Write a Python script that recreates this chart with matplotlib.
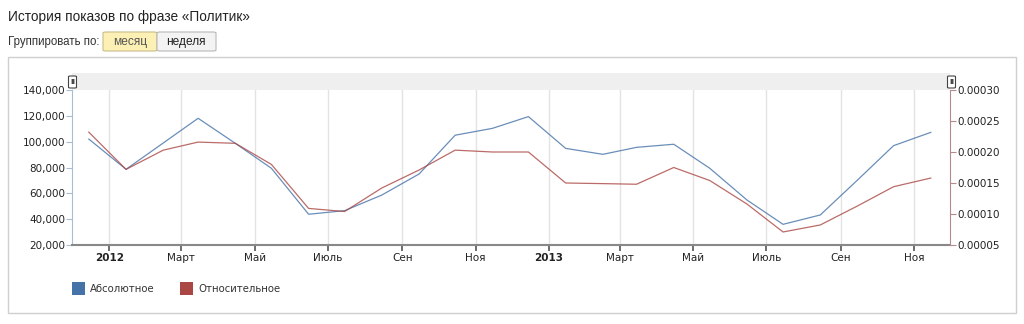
import matplotlib
matplotlib.use('Agg')
import matplotlib.pyplot as plt
from matplotlib.patches import Rectangle, FancyBboxPatch
from matplotlib.ticker import FuncFormatter
import datetime as dt

# monthly values, Dec 2011 .. Nov 2013 (points sit mid-month)
months = [dt.date(2011, 12, 15)] + [dt.date(2012, m, 15) for m in range(1, 13)] + \
         [dt.date(2013, m, 15) for m in range(1, 12)]
absolute = [102000, 78600, 99000, 118100, 98700, 79400, 43800, 46600, 58700, 75000, 105000, 110300,
            119400, 94800, 90200, 95600, 98000, 79400, 54800, 36000, 43250, 70300, 96900, 107200]
relative = [0.000232, 0.000172, 0.000203, 0.000216, 0.000214, 0.000180, 0.000109, 0.000104,
            0.000142, 0.000171, 0.000203, 0.000200, 0.000200, 0.000150, 0.000149, 0.000148,
            0.000175, 0.000154, 0.000116, 0.000071, 0.0000823, 0.000113, 0.000144, 0.000158]

tick_dates = [dt.date(2012, 1, 1), dt.date(2012, 3, 1), dt.date(2012, 5, 1), dt.date(2012, 7, 1),
              dt.date(2012, 9, 1), dt.date(2012, 11, 1), dt.date(2013, 1, 1), dt.date(2013, 3, 1),
              dt.date(2013, 5, 1), dt.date(2013, 7, 1), dt.date(2013, 9, 1), dt.date(2013, 11, 1)]
tick_labels = ['2012', 'Март', 'Май', 'Июль', 'Сен', 'Ноя', '2013', 'Март', 'Май', 'Июль', 'Сен', 'Ноя']

W, H = 1024, 324
BLUE = '#4572A7'
RED = '#AA4643'


def px(x, y):
    return x / W, 1 - y / H


fig = plt.figure(figsize=(W / 100, H / 100), dpi=100)

# header texts
fig.text(*px(8, 17), 'История показов по фразе «Политик»', fontsize=9.8,
         family='Liberation Sans', color='#222222', va='center')
fig.text(*px(8, 42), 'Группировать по:', fontsize=8.3, family='Liberation Sans',
         color='#333333', va='center')
# buttons
b1 = FancyBboxPatch(px(103, 51), 54 / W, 19 / H, boxstyle='round,pad=0,rounding_size=0.003',
                    transform=fig.transFigure, fc='#fdf0b5', ec='#c9bd8a', lw=0.8)
b2 = FancyBboxPatch(px(157, 51), 59 / W, 19 / H, boxstyle='round,pad=0,rounding_size=0.003',
                    transform=fig.transFigure, fc='#f3f3f3', ec='#b8b8b8', lw=0.8)
fig.patches.extend([b1, b2])
fig.text(*px(130, 42), 'месяц', fontsize=8.6, family='Liberation Sans', color='#555555',
         ha='center', va='center')
fig.text(*px(186, 42), 'неделя', fontsize=8.6, family='Liberation Sans', color='#222222',
         ha='center', va='center')

# chart container
box = Rectangle(px(8, 313), 1008 / W, 256 / H, transform=fig.transFigure,
                fc='white', ec='#cfcfcf', lw=1, zorder=-10)
fig.patches.append(box)

# scroll band above plot
band = Rectangle(px(72, 90), 878 / W, 17 / H, transform=fig.transFigure,
                 fc='#efefef', ec='none', zorder=-5)
fig.patches.append(band)
for hx in (72, 951):
    h = FancyBboxPatch(px(hx - 3.5, 88), 8 / W, 12 / H, boxstyle='round,pad=0,rounding_size=0.002',
                       transform=fig.transFigure, fc='white', ec='#444444', lw=0.8)
    fig.patches.append(h)
    fig.text(*px(hx + 0.5, 82), 'II', fontsize=5, color='#333333', ha='center', va='center',
             fontweight='bold')

ax = fig.add_axes([72 / W, 1 - 245 / H, 878 / W, 155 / H])
ax.patch.set_alpha(0)
ax2 = ax.twinx()
ax.set_zorder(2)
ax2.set_zorder(3)

ax.plot(months, absolute, color=BLUE, lw=0.9, alpha=0.8)
ax2.plot(months, relative, color=RED, lw=0.9, alpha=0.8)

ax.set_xlim(dt.date(2011, 12, 1), dt.date(2013, 12, 1))
ax.set_ylim(20000, 140000)
ax2.set_ylim(0.00005, 0.00030)
ax.set_yticks(range(20000, 140001, 20000))
ax.yaxis.set_major_formatter(FuncFormatter(lambda v, p: f'{int(v):,}'))
ax2.set_yticks([0.00005, 0.0001, 0.00015, 0.0002, 0.00025, 0.0003])
ax2.yaxis.set_major_formatter(FuncFormatter(lambda v, p: f'{v:.5f}'))

ax.set_xticks(tick_dates)
ax.set_xticklabels(tick_labels)
for lab in ax.get_xticklabels():
    if lab.get_text() in ('2012', '2013'):
        lab.set_fontweight('bold')
ax.grid(axis='x', color='#e3e3e3', lw=1)
ax.set_axisbelow(True)

for a in (ax, ax2):
    for s in a.spines.values():
        s.set_visible(False)
ax.spines['bottom'].set_visible(True)
ax.spines['bottom'].set_color('#888888')
ax.spines['bottom'].set_linewidth(1.5)
ax.spines['left'].set_visible(True)
ax.spines['left'].set_color('#a8bcd4')
ax2.spines['right'].set_visible(True)
ax2.spines['right'].set_color('#b48a8a')

ax.tick_params(axis='x', length=4, width=1.2, color='#555555', labelsize=7.5,
               labelcolor='#222222', pad=2)
ax.tick_params(axis='y', length=4, width=0.8, color='#a8bcd4', labelsize=7.5,
               labelcolor='#222222', pad=1)
ax2.tick_params(axis='y', length=4, width=0.8, color='#b48a8a', labelsize=7.5,
                labelcolor='#222222', pad=1)

# legend
for lx, col, name in ((72, BLUE, 'Абсолютное'), (180, RED, 'Относительное')):
    fig.patches.append(Rectangle(px(lx, 295), 13 / W, 13 / H, transform=fig.transFigure,
                                 fc=col, ec='none'))
    fig.text(*px(lx + 18, 288.5), name, fontsize=7.3, color='#333333', va='center')

fig.savefig('out.png', dpi=100)
